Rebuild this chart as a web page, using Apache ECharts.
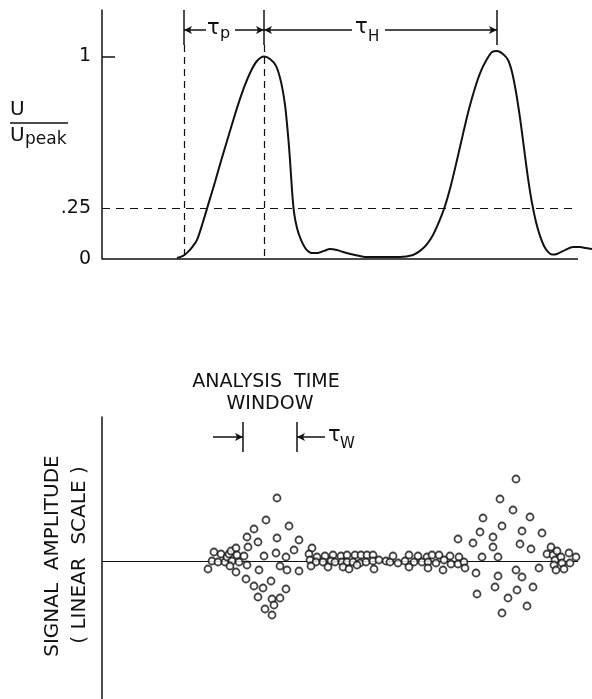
<!DOCTYPE html>
<html>
<head>
<meta charset="utf-8">
<script src="https://cdn.jsdelivr.net/npm/echarts@6/dist/echarts.min.js"></script>
<style>html,body{margin:0;padding:0;background:#fff;}#c{width:592px;height:699px;}</style>
</head>
<body>
<div id="c"></div>
<script>
// ---- top panel: normalized velocity U/Upeak vs time (arbitrary units) ----
var curveX = [75,81,86,91,95,101,107,113,119,125,131,137,143,149,155,162,168,174,179,183,186,188,190,192,195,199,204,210,216,222,228,235,241,253,263,278,298,311,318,325,331,337,343,349,355,361,367,373,379,385,390,395,401,406,410,414,418,422,426,430,434,438,442,446,450,455,463,471,478,484,490];
var curveU = [0.005,0.015,0.035,0.064,0.094,0.183,0.282,0.38,0.484,0.583,0.682,0.776,0.86,0.929,0.978,1.0,0.988,0.954,0.875,0.761,0.613,0.489,0.341,0.232,0.153,0.094,0.049,0.03,0.03,0.04,0.049,0.044,0.035,0.02,0.01,0.01,0.01,0.02,0.04,0.074,0.119,0.183,0.262,0.366,0.489,0.618,0.741,0.845,0.929,0.988,1.023,1.028,1.013,0.983,0.924,0.825,0.697,0.548,0.4,0.277,0.183,0.114,0.064,0.035,0.022,0.025,0.044,0.059,0.059,0.054,0.049];
var yTickLabels = [0, 0.25, 1];
var threshold = 0.25;
var tStart = 82, tPeak1 = 162, tPeak2 = 395, tEnd = 476;

// ---- bottom panel: signal amplitude samples ----
var sigX = [106,110,112,116,119,123,125,127,129,130,134,135,137,128,134,142,145,145,146,144,152,152,156,156,157,161,162,164,163,169,170,170,172,175,175,174,178,178,184,184,185,187,192,197,197,
210,207,215,223,231,239,245,253,259,265,271,208,214,221,229,233,240,245,251,258,264,271,277,284,209,226,241,247,255,272,288,291,307,316,325,330,337,348,357,296,303,312,320,326,334,342,349,356,362,307,326,341,363,
356,371,378,374,375,380,381,391,391,393,396,396,398,400,400,406,411,414,414,415,418,420,420,425,428,429,431,440,437,
445,449,451,453,452,454,455,459,460,462,467,468,474];
var sigAmp = [-0.8,0.0,0.9,-0.1,0.7,-0.1,0.4,0.7,1.0,0.0,1.3,0.6,-0.1,-0.5,-1.1,0.5,-0.4,2.4,1.4,-1.8,3.2,-2.5,1.9,-3.6,-0.9,-2.7,0.5,4.1,-4.8,-2.0,-3.8,-5.4,-4.4,6.3,2.3,0.8,-0.5,-3.7,0.4,-2.8,-0.9,3.5,1.1,2.1,-1.0,
1.3,0.7,0.4,0.5,0.6,0.5,0.6,0.6,0.6,0.6,0.6,0.1,-0.1,-0.1,0.0,-0.1,-0.1,-0.1,-0.1,-0.2,-0.1,0.0,0.1,0.0,-0.5,-0.6,-0.6,-0.8,-0.4,-0.8,-0.1,0.5,0.6,0.5,0.4,0.6,0.6,0.5,0.4,-0.2,0.0,-0.1,-0.1,-0.1,-0.2,0.1,-0.3,-0.3,-0.1,-0.6,-0.7,-0.9,-0.7,
2.2,1.8,2.9,-1.2,-3.3,0.4,4.3,2.4,1.4,-2.6,0.4,-1.5,6.2,3.5,-5.2,-3.7,5.1,8.2,-0.9,-2.9,1.7,3.0,-1.6,-4.5,4.4,1.2,-2.6,2.8,-0.7,
0.7,1.4,0.6,0.1,-0.4,-0.9,1.0,0.4,-0.2,-0.8,0.8,-0.2,0.4];
var winLeft = 141, winRight = 195;

var curve = curveX.map(function(x,i){return [x, curveU[i]];});
var sig = sigX.map(function(x,i){return [x, sigAmp[i]];});

var INK = '#111';
var FONT = 'DejaVu Sans';
var solid = {color: INK, width: 1.5, type: 'solid'};
var dash = {color: INK, width: 1.2, type: [7,5]};
var yArrow = 1.131, yTop = 1.23, ySolidEnd = 1.057;

function seg(x1,y1,x2,y2,style,s1,s2){
  return [{coord:[x1,y1], symbol:s1||'none', lineStyle:style},{coord:[x2,y2], symbol:s2||'none'}];
}

var chart = echarts.init(document.getElementById('c'), null, {renderer:'canvas'});
chart.setOption({
  animation: false,
  backgroundColor: '#fff',
  grid: [
    {left: 102, right: 0, top: 10, height: 249},
    {left: 102, right: 0, top: 417, bottom: 0}
  ],
  xAxis: [
    {gridIndex:0, type:'value', min:0, max:490, show:false},
    {gridIndex:1, type:'value', min:0, max:490, show:false}
  ],
  yAxis: [
    {gridIndex:0, type:'value', min:0, max:1.23,
     axisLine:{show:true, lineStyle:{color:INK, width:1.5}},
     axisTick:{show:true, inside:true, length:13, customValues:[1], lineStyle:{color:INK, width:1.5}},
     axisLabel:{customValues: yTickLabels, margin:11, color:INK, fontSize:19, fontFamily:FONT,
       formatter:function(v){ return v===0.25 ? '.25' : String(v); }},
     splitLine:{show:false}},
    {gridIndex:1, type:'value', min:-13.8, max:14.4,
     axisLine:{show:true, lineStyle:{color:INK, width:1.5}},
     axisTick:{show:false}, axisLabel:{show:false}, splitLine:{show:false}}
  ],
  series: [
    {type:'line', xAxisIndex:0, yAxisIndex:0, data: curve, smooth: 0.3, symbol:'none',
     lineStyle:{color:INK, width:2}, silent:true,
     markLine:{silent:true, symbol:['none','none'], symbolSize:[6,8], label:{show:false}, emphasis:{disabled:true},
       data:[
         seg(0,0,tEnd,0,solid),
         seg(0,threshold,tEnd,threshold,{color:INK,width:1.2,type:[8,6]}),
         seg(tStart,yTop,tStart,ySolidEnd,solid),
         seg(tStart,ySolidEnd,tStart,0,dash),
         seg(tPeak1,yTop,tPeak1,ySolidEnd,solid),
         seg(tPeak1,ySolidEnd,tPeak1,0,dash),
         seg(tPeak2,yTop,tPeak2,ySolidEnd,solid),
         seg(tStart,yArrow,104,yArrow,solid,'arrow','none'),
         seg(133,yArrow,tPeak1,yArrow,solid,'none','arrow'),
         seg(tPeak1,yArrow,250,yArrow,solid,'arrow','none'),
         seg(283,yArrow,tPeak2,yArrow,solid,'none','arrow')
       ]}},
    {type:'scatter', xAxisIndex:1, yAxisIndex:1, data: sig, symbol:'circle', symbolSize:7,
     itemStyle:{color:'#fff', borderColor:INK, borderWidth:1.8}, silent:true, z:3,
     markLine:{silent:true, symbol:['none','none'], symbolSize:[6,8], label:{show:false}, emphasis:{disabled:true}, z:1,
       data:[
         seg(0,0,tEnd,0,{color:INK,width:1,type:'solid'}),
         seg(111,12.4,winLeft,12.4,solid,'none','arrow'),
         seg(winLeft,13.9,winLeft,10.9,solid),
         seg(winRight,13.9,winRight,10.9,solid),
         seg(223,12.4,winRight,12.4,solid,'none','arrow')
       ]}}
  ],
  graphic: [
    {type:'text', left:10, top:100, style:{text:'U', fontSize:20, fontFamily:FONT, fill:INK}},
    {type:'line', shape:{x1:10,y1:123,x2:68,y2:123}, style:{stroke:INK, lineWidth:1.5}},
    {type:'text', left:10, top:126, style:{text:'U', fontSize:20, fontFamily:FONT, fill:INK}},
    {type:'text', left:25, top:131, style:{text:'peak', fontSize:17, fontFamily:FONT, fill:INK}},
    {type:'text', left:207, top:18, style:{text:'\u03c4', fontSize:21, fontFamily:FONT, fill:INK}},
    {type:'text', left:220, top:26, style:{text:'p', fontSize:16, fontFamily:FONT, fill:INK}},
    {type:'text', left:355, top:17, style:{text:'\u03c4', fontSize:21, fontFamily:FONT, fill:INK}},
    {type:'text', left:368, top:30, style:{text:'H', fontSize:15, fontFamily:FONT, fill:INK}},
    {type:'text', x:266, y:382, style:{text:'ANALYSIS  TIME', fontSize:19, fontFamily:FONT, fill:INK, align:'center', verticalAlign:'middle'}},
    {type:'text', x:270, y:404, style:{text:'WINDOW', fontSize:19, fontFamily:FONT, fill:INK, align:'center', verticalAlign:'middle'}},
    {type:'text', left:328, top:425, style:{text:'\u03c4', fontSize:21, fontFamily:FONT, fill:INK}},
    {type:'text', left:340, top:437, style:{text:'W', fontSize:15, fontFamily:FONT, fill:INK}},
    {type:'text', x:53, y:556, rotation:Math.PI/2, style:{text:'SIGNAL  AMPLITUDE', fontSize:20, fontFamily:FONT, fill:INK, align:'center', verticalAlign:'middle'}},
    {type:'text', x:80, y:555, rotation:Math.PI/2, style:{text:'( LINEAR  SCALE )', fontSize:20, fontFamily:FONT, fill:INK, align:'center', verticalAlign:'middle'}}
  ]
});
</script>
</body>
</html>
